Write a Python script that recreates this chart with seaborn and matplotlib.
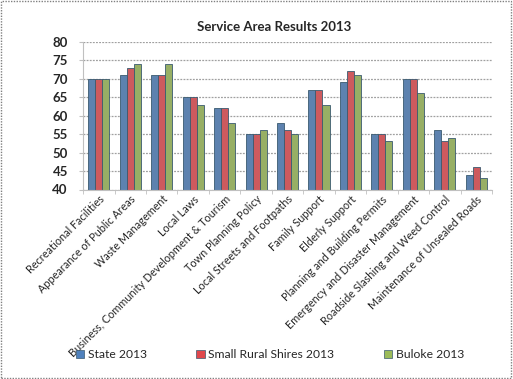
import seaborn as sns
import matplotlib.pyplot as plt
import pandas as pd
import numpy as np

areas = [
    "Recreational Facilities",
    "Appearance of Public Areas",
    "Waste Management",
    "Local Laws",
    "Business, Community Development & Tourism",
    "Town Planning Policy",
    "Local Streets and Footpaths",
    "Family Support",
    "Elderly Support",
    "Planning and Building Permits",
    "Emergency and Disaster Management",
    "Roadside Slashing and Weed Control",
    "Maintenance of Unsealed Roads",
]
state = [70, 71, 71, 65, 62, 55, 58, 67, 69, 55, 70, 56, 44]
small_rural = [70, 73, 71, 65, 62, 55, 56, 67, 72, 55, 70, 53, 46]
buloke = [70, 74, 74, 63, 58, 56, 55, 63, 71, 53, 66, 54, 43]
series = ["State 2013", "Small Rural Shires 2013", "Buloke 2013"]
colors = ["#4F81BD", "#E0474C", "#9BBB59"]

df = pd.DataFrame({
    "Area": areas * 3,
    "Score": state + small_rural + buloke,
    "Series": [series[0]] * len(areas) + [series[1]] * len(areas) + [series[2]] * len(areas),
})

sns.set_style("white")
plt.rcParams["font.family"] = ["Lato", "DejaVu Sans"]

fig = plt.figure(figsize=(5.13, 3.79), dpi=100)
ax = fig.add_axes([0.162, 0.5, 0.797, 0.39])
sns.barplot(data=df, x="Area", y="Score", hue="Series", palette=colors,
            width=0.67, edgecolor="#3a5a70", linewidth=0.6, ax=ax, legend=False)

ax.set_ylim(40, 80)
ax.set_yticks(range(40, 81, 5))
ax.set_xlim(-0.5, len(areas) - 0.5)
ax.yaxis.grid(True, color="#a0a0a0", linestyle=(0, (1.5, 1)), linewidth=0.9)
ax.set_axisbelow(True)
for s in ["top", "right"]:
    ax.spines[s].set_visible(False)
ax.spines["left"].set_color("#c0c0c0")
ax.spines["bottom"].set_color("#c0c0c0")
ax.set_xlabel("")
ax.set_ylabel("")
ax.tick_params(axis="y", labelsize=9.5, pad=8, length=3, color="#c0c0c0", direction="out", left=True)
for t in ax.get_yticklabels():
    t.set_fontweight("bold")
ax.set_xticks(range(len(areas)))
ax.set_xticks(np.arange(-0.5, len(areas)), minor=True)
ax.set_xticklabels(areas, rotation=45, ha="right", rotation_mode="anchor", fontsize=7.8)
ax.tick_params(axis="x", which="major", pad=3, length=0)
ax.tick_params(axis="x", which="minor", length=3, color="#c0c0c0", bottom=True)

fig.text(0.535, 0.929, "Service Area Results 2013", ha="center", va="center",
         fontsize=9.5, fontweight="bold")

handles = [plt.Rectangle((0, 0), 1, 1, facecolor=c, edgecolor="#3a5a70", linewidth=0.5) for c in colors]
fig.legend(handles, series, loc="center", bbox_to_anchor=(0.526, 0.064), ncol=3,
           frameon=False, fontsize=8.7, handlelength=0.7, handleheight=0.7,
           handletextpad=0.3, columnspacing=4.1)

border = plt.Rectangle((0.002, 0.003), 0.995, 0.994, transform=fig.transFigure,
                       fill=False, edgecolor="#808080", linestyle=(0, (1, 1)), linewidth=1)
fig.patches.append(border)

fig.savefig("out.png", dpi=100)
